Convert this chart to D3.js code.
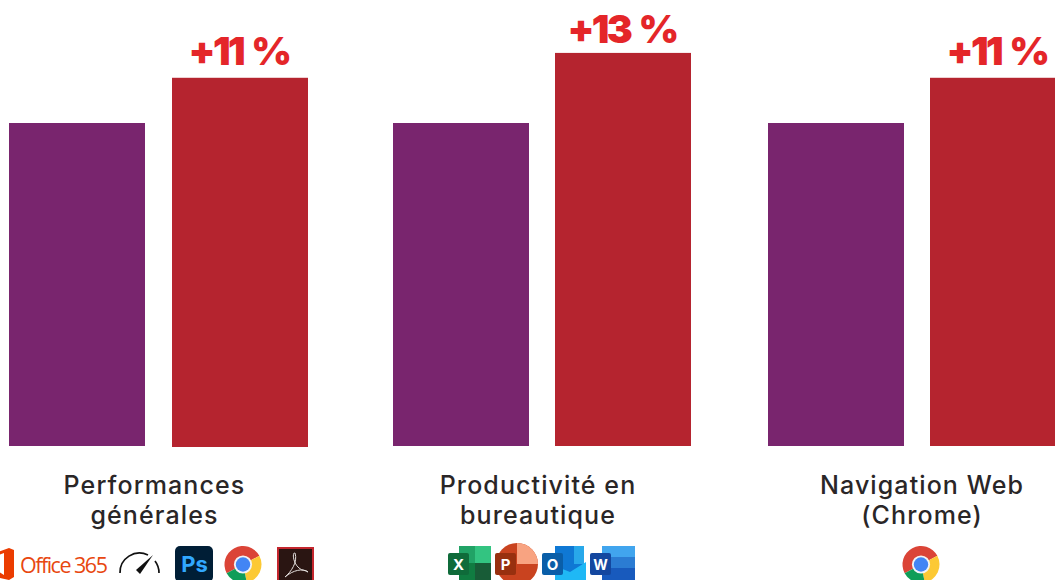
<!DOCTYPE html>
<html><head><meta charset="utf-8">
<script src="https://cdnjs.cloudflare.com/ajax/libs/d3/7.8.5/d3.min.js"></script>
<style>html,body{margin:0;padding:0;background:#fff;overflow:hidden}svg{display:block}text{font-family:Inter,"Noto Sans",sans-serif}</style>
</head><body><div id="chart"></div>
<script>
const categories = ["Performances générales","Productivité en bureautique","Navigation Web (Chrome)"];
const labelLines = [["Performances","générales"],["Productivité en","bureautique"],["Navigation Web","(Chrome)"]];
const baseValues = [100,100,100];
const newValues = [114,121.7,114];
const gainLabels = ["+11 %","+13 %","+11 %"];
const baseLeft = [9,393,768];
const newLeft = [172,555,930];
const gainOffset = [13,10,13];
const W=1055,H=580,barW=136;
const svg=d3.select("#chart").append("svg").attr("width",W).attr("height",H);
const y=d3.scaleLinear().domain([0,100]).range([446,123]);
const g=svg.selectAll("g.grp").data(categories).join("g").attr("class","grp");
g.append("rect").attr("x",(d,i)=>baseLeft[i]).attr("y",(d,i)=>y(baseValues[i])).attr("width",barW)
 .attr("height",(d,i)=>y(0)-y(baseValues[i])).attr("fill","#79256e");
g.append("rect").attr("x",(d,i)=>newLeft[i]).attr("y",(d,i)=>y(newValues[i])).attr("width",barW)
 .attr("height",(d,i)=>y(0)-y(newValues[i])+(i==0?1:0)).attr("fill","#b5242f");
g.append("text").attr("x",(d,i)=>newLeft[i]+67).attr("y",(d,i)=>y(newValues[i])-gainOffset[i])
 .attr("text-anchor","middle").attr("font-size",39).attr("font-weight",900).attr("letter-spacing",-2.6).attr("word-spacing",3).attr("fill","#e42629").text((d,i)=>gainLabels[i]);
const labelX=[154.5,538,922];
g.each(function(d,i){
  const s=d3.select(this);
  labelLines[i].forEach((t,k)=>s.append("text").attr("x",labelX[i]).attr("y",494+k*29.5)
   .attr("text-anchor","middle").attr("font-size",25).attr("font-weight",500).attr("letter-spacing",1.1).attr("fill","#2a2627").text(t));
});
function chrome(cx,cy,r){
  const a=svg.append("g").attr("transform",`translate(${cx},${cy})`);
  const arc=d3.arc().innerRadius(0).outerRadius(r);
  const D=Math.PI/180;
  [[-118,62,"#db4437"],[62,168,"#fcc934"],[168,242,"#0f9d58"]].forEach(([s,e,c])=>
    a.append("path").attr("d",arc({startAngle:s*D,endAngle:e*D})).attr("fill",c));
  a.append("circle").attr("r",r*0.49).attr("fill","#f1f3f4");
  a.append("circle").attr("r",r*0.39).attr("fill","#4285f4");
}
// Office 365
svg.append("path").attr("d","M-8 554L9 548L14 550V577L9 580L-8 576ZM4 553L-1 555V572L4 575Z").attr("fill","#eb3c00").attr("fill-rule","evenodd");
svg.append("text").attr("x",20).attr("y",573).attr("font-size",21.5).attr("letter-spacing",-1.5).attr("fill","#e8470f").style("font-family","'Open Sans'").text("Office 365");
// gauge
const gauge=svg.append("g").attr("transform","translate(139,572)");
gauge.append("path").attr("d","M-19 1A19.5 19.5 0 0 1 9 -17").attr("fill","none").attr("stroke","#111").attr("stroke-width",1.7);
gauge.append("path").attr("d","M16 -11A19.5 19.5 0 0 1 20 1").attr("fill","none").attr("stroke","#111").attr("stroke-width",1.7);
gauge.append("path").attr("d","M-3 -2L14 -17L1 2Z").attr("fill","#111");
// Photoshop
svg.append("rect").attr("x",175).attr("y",546).attr("width",38).attr("height",36).attr("rx",5).attr("fill","#001e36");
svg.append("text").attr("x",194.5).attr("y",572).attr("text-anchor","middle").attr("font-size",22).attr("font-weight",700).attr("fill","#31a8ff").text("Ps");
chrome(243,564.5,18.5);
// Acrobat
svg.append("rect").attr("x",278).attr("y",548).attr("width",35).attr("height",34).attr("fill","#2a1512").attr("stroke","#c4262e").attr("stroke-width",2);
svg.append("path").attr("d","M285 577C291 572 298 562 295 553C292 552 293 563 299 568C302 571 306 570 308 572C303 568 293 570 285 577Z").attr("fill","none").attr("stroke","#e5e0de").attr("stroke-width",1);
// Excel
const xl=svg.append("g");
[["#21a366",0,0],["#33c481",1,0],["#107c41",0,1],["#185c37",1,1]].forEach(([c,a,b])=>xl.append("rect").attr("x",459+a*16).attr("y",546+b*17).attr("width",16).attr("height",17).attr("fill",c));
xl.append("rect").attr("x",448).attr("y",553).attr("width",21).attr("height",22).attr("rx",2).attr("fill","#0f6b3a");
xl.append("text").attr("x",458.5).attr("y",570).attr("text-anchor","middle").attr("font-size",15).attr("font-weight",700).attr("fill","#fff").text("X");
// PowerPoint
svg.append("circle").attr("cx",517).attr("cy",564).attr("r",21).attr("fill","#c9431f");
svg.append("path").attr("d","M517 543A21 21 0 0 1 538 564H517Z").attr("fill","#f8a381");
svg.append("rect").attr("x",495).attr("y",553).attr("width",21).attr("height",22).attr("rx",2).attr("fill","#98300f");
svg.append("text").attr("x",505.5).attr("y",570).attr("text-anchor","middle").attr("font-size",15).attr("font-weight",700).attr("fill","#fff").text("P");
// Outlook
svg.append("rect").attr("x",555).attr("y",546).attr("width",29).attr("height",36).attr("fill","#0f78d4");
svg.append("rect").attr("x",574).attr("y",546).attr("width",10).attr("height",18).attr("fill","#28a8ea");
svg.append("path").attr("d","M555 566L570 572L586 562V582H555Z").attr("fill","#1fb8f5");
svg.append("rect").attr("x",542).attr("y",553).attr("width",21).attr("height",22).attr("rx",2).attr("fill","#0a5ea8");
svg.append("text").attr("x",552.5).attr("y",570).attr("text-anchor","middle").attr("font-size",15).attr("font-weight",700).attr("fill","#fff").text("O");
// Word
[["#41a5ee",546],["#2b7cd3",557],["#185abd",568]].forEach(([c,yy])=>svg.append("rect").attr("x",602).attr("y",yy).attr("width",33).attr("height",12).attr("fill",c));
svg.append("rect").attr("x",590).attr("y",553).attr("width",21).attr("height",22).attr("rx",2).attr("fill","#14479f");
svg.append("text").attr("x",600.5).attr("y",570).attr("text-anchor","middle").attr("font-size",14).attr("font-weight",700).attr("fill","#fff").text("W");
chrome(921,564.5,18.5);
</script></body></html>
